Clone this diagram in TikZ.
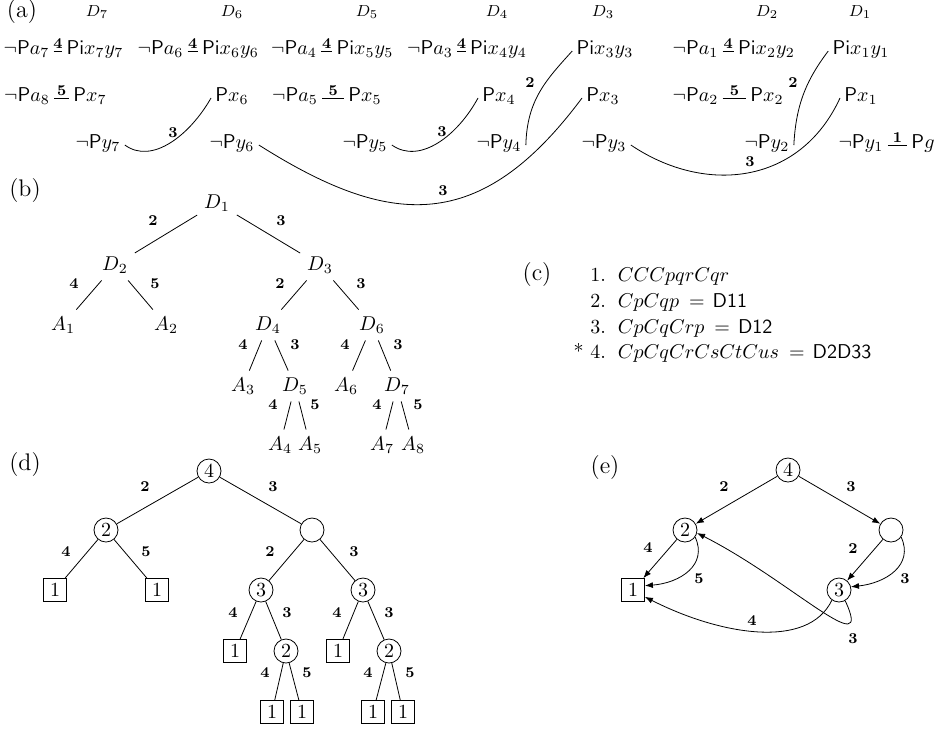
\documentclass[tikz,border=0pt]{standalone}
\usetikzlibrary{arrows.meta}
\begin{document}
\begin{tikzpicture}[x=0.5pt,y=-0.5pt,
  lit/.style={inner sep=2pt, text height=1.4ex, text depth=0.6ex},
  lbl/.style={font=\fontsize{7.5}{9}\selectfont\bfseries, inner sep=1pt},
  dlab/.style={font=\footnotesize},
  part/.style={font=\large},
  cn/.style={circle, draw, minimum size=12pt, inner sep=1pt},
  sn/.style={rectangle, draw, minimum size=11.5pt, inner sep=1pt},
  arr/.style={-{Latex[length=4pt,width=3pt]}},
  cline/.style={anchor=base west, inner sep=0pt}
]
\useasboundingbox (0,0) rectangle (936,729);

% ---------------- (a)
\node[part] (la) at (22,12) {(a)};
\node[dlab] (d7) at (97,12) {$D_7$};
\node[dlab] (d6) at (232,12) {$D_6$};
\node[dlab] (d5) at (367,12) {$D_5$};
\node[dlab] (d4) at (497,12) {$D_4$};
\node[dlab] (d3) at (603,12) {$D_3$};
\node[dlab] (d2) at (767,12) {$D_2$};
\node[dlab] (d1) at (860,12) {$D_1$};

\node[lit] (a7) at (26.5,51) {$\neg\mathsf{P}a_7$};
\node[lit] (ix7) at (95,51) {$\mathsf{Pi}x_7y_7$};
\node[lit] (a6) at (160.5,51) {$\neg\mathsf{P}a_6$};
\node[lit] (ix6) at (230.5,51) {$\mathsf{Pi}x_6y_6$};
\node[lit] (a4) at (294,51) {$\neg\mathsf{P}a_4$};
\node[lit] (ix5) at (365,51) {$\mathsf{Pi}x_5y_5$};
\node[lit] (a3) at (430,51) {$\neg\mathsf{P}a_3$};
\node[lit] (ix4) at (498.5,51) {$\mathsf{Pi}x_4y_4$};
\node[lit] (ix3) at (605,51) {$\mathsf{Pi}x_3y_3$};
\node[lit] (a1) at (695.5,51) {$\neg\mathsf{P}a_1$};
\node[lit] (ix2) at (766.5,51) {$\mathsf{Pi}x_2y_2$};
\node[lit] (ix1) at (861,51) {$\mathsf{Pi}x_1y_1$};

\node[lit] (a8) at (27,98) {$\neg\mathsf{P}a_8$};
\node[lit] (x7) at (90,98) {$\mathsf{P}x_7$};
\node[lit] (x6) at (232,98) {$\mathsf{P}x_6$};
\node[lit] (a5) at (295,98) {$\neg\mathsf{P}a_5$};
\node[lit] (x5) at (365,98) {$\mathsf{P}x_5$};
\node[lit] (x4) at (499,98) {$\mathsf{P}x_4$};
\node[lit] (x3) at (603,98) {$\mathsf{P}x_3$};
\node[lit] (a2) at (695.5,98) {$\neg\mathsf{P}a_2$};
\node[lit] (x2) at (767,98) {$\mathsf{P}x_2$};
\node[lit] (x1) at (861,98) {$\mathsf{P}x_1$};

\node[lit] (y7) at (98,145) {$\neg\mathsf{P}y_7$};
\node[lit] (y6) at (232,145) {$\neg\mathsf{P}y_6$};
\node[lit] (y5) at (365,145) {$\neg\mathsf{P}y_5$};
\node[lit] (y4) at (499,145) {$\neg\mathsf{P}y_4$};
\node[lit] (y3) at (604,145) {$\neg\mathsf{P}y_3$};
\node[lit] (y2) at (767,145) {$\neg\mathsf{P}y_2$};
\node[lit] (y1) at (861,145) {$\neg\mathsf{P}y_1$};
\node[lit] (g) at (923,145) {$\mathsf{P}g$};

\draw (a7) -- node[lbl, above] {4} (ix7);
\draw (a6) -- node[lbl, above] {4} (ix6);
\draw (a4) -- node[lbl, above] {4} (ix5);
\draw (a3) -- node[lbl, above] {4} (ix4);
\draw (a1) -- node[lbl, above] {4} (ix2);
\draw (a8) -- node[lbl, above] {5} (x7);
\draw (a5) -- node[lbl, above] {5} (x5);
\draw (a2) -- node[lbl, above] {5} (x2);
\draw (y1) -- node[lbl, above] {1} (g);

\draw (y7.east) .. controls (152,165) and (190,135) .. (x6.west) node[lbl] at (173,133) {3};
\draw (y5.east) .. controls (420,165) and (458,135) .. (x4.west) node[lbl] at (442,132) {3};
\draw (y6.east) .. controls (390,228) and (480,235) .. (x3.west) node[lbl] at (443,191) {3};
\draw (y4.east) .. controls (527,100) and (546,80) .. (ix3.west) node[lbl] at (530,83) {2};
\draw (y3.east) .. controls (705,195) and (800,185) .. (x1.west) node[lbl] at (750,162) {3};
\draw (y2.east) .. controls (796,102) and (808,78) .. (ix1.west) node[lbl] at (793,83) {2};

% ---------------- (b)
\node[part] (lb) at (25,191) {(b)};
\node (D1) at (217,203) {$D_1$};
\node (D2) at (115,265) {$D_2$};
\node (D3) at (320,265) {$D_3$};
\node (A1) at (63,325) {$A_1$};
\node (A2) at (166,325) {$A_2$};
\node (D4) at (268,325) {$D_4$};
\node (D6) at (372,325) {$D_6$};
\node (A3) at (243,386) {$A_3$};
\node (D5) at (295,386) {$D_5$};
\node (A6) at (346,386) {$A_6$};
\node (D7) at (397,386) {$D_7$};
\node (A4) at (280,445) {$A_4$};
\node (A5) at (310,445) {$A_5$};
\node (A7) at (382,445) {$A_7$};
\node (A8) at (413,445) {$A_8$};

\draw (D1) -- (D2) node[lbl] at (153,221) {2};
\draw (D1) -- (D3) node[lbl] at (281,221) {3};
\draw (D2) -- (A1) node[lbl] at (74,284) {4};
\draw (D2) -- (A2) node[lbl] at (155,284) {5};
\draw (D3) -- (D4) node[lbl] at (280,284) {2};
\draw (D3) -- (D6) node[lbl] at (361,284) {3};
\draw (D4) -- (A3) node[lbl] at (243,345) {4};
\draw (D4) -- (D5) node[lbl] at (295,345) {3};
\draw (D6) -- (A6) node[lbl] at (345,345) {4};
\draw (D6) -- (D7) node[lbl] at (398,345) {3};
\draw (D5) -- (A4) node[lbl] at (273,405) {4};
\draw (D5) -- (A5) node[lbl] at (315,405) {5};
\draw (D7) -- (A7) node[lbl] at (377,405) {4};
\draw (D7) -- (A8) node[lbl] at (418,405) {5};

% ---------------- (c)
\node[part] (lc) at (537,275) {(c)};
\node[cline] (c1) at (590,281) {1.\hspace{6pt}$CCCpqrCqr$};
\node[cline] (c2) at (590,307) {2.\hspace{6pt}$CpCqp$\hspace{5pt}$=$\hspace{4pt}\textsf{D11}};
\node[cline] (c3) at (590,333) {3.\hspace{6pt}$CpCqCrp$\hspace{5pt}$=$\hspace{4pt}\textsf{D12}};
\node[cline] (c4) at (590,358) {4.\hspace{6pt}$CpCqCrCsCtCus$\hspace{5pt}$=$\hspace{4pt}\textsf{D2D33}};
\node[anchor=base east, inner sep=0pt] (cs) at (584,358) {*};

% ---------------- (d)
\node[part] (ld) at (25,465) {(d)};
\node[cn] (r4) at (209,471) {4};
\node[cn] (l2) at (106,530) {2};
\node[cn] (re) at (312,530) {};
\node[sn] (s1) at (55,590) {1};
\node[sn] (s2) at (157,590) {1};
\node[cn] (c3a) at (261,590) {3};
\node[cn] (c3b) at (363,590) {3};
\node[sn] (s3) at (235,651) {1};
\node[cn] (c2a) at (286,651) {2};
\node[sn] (s4) at (338,651) {1};
\node[cn] (c2b) at (389,651) {2};
\node[sn] (s5) at (272,712) {1};
\node[sn] (s6) at (302,712) {1};
\node[sn] (s7) at (373,712) {1};
\node[sn] (s8) at (403,712) {1};

\draw (r4) -- (l2) node[lbl] at (145,487) {2};
\draw (r4) -- (re) node[lbl] at (273,487) {3};
\draw (l2) -- (s1) node[lbl] at (66,552) {4};
\draw (l2) -- (s2) node[lbl] at (146,552) {5};
\draw (re) -- (c3a) node[lbl] at (270,552) {2};
\draw (re) -- (c3b) node[lbl] at (354,552) {3};
\draw (c3a) -- (s3) node[lbl] at (233,613) {4};
\draw (c3a) -- (c2a) node[lbl] at (287,613) {3};
\draw (c3b) -- (s4) node[lbl] at (337,613) {4};
\draw (c3b) -- (c2b) node[lbl] at (389,613) {3};
\draw (c2a) -- (s5) node[lbl] at (265,673) {4};
\draw (c2a) -- (s6) node[lbl] at (307,673) {5};
\draw (c2b) -- (s7) node[lbl] at (368,673) {4};
\draw (c2b) -- (s8) node[lbl] at (410,673) {5};

% ---------------- (e)
\node[part] (le) at (605,467) {(e)};
\node[cn] (e4) at (788,470) {4};
\node[cn] (e2) at (685,530) {2};
\node[cn] (ee) at (891,530) {};
\node[sn] (e1) at (633,590) {1};
\node[cn] (e3) at (839,590) {3};

\draw[arr] (e4) -- (e2) node[lbl] at (724,487) {2};
\draw[arr] (e4) -- (ee) node[lbl] at (851,487) {3};
\draw[arr] (e2) -- (e1) node[lbl] at (648,548) {4};
\draw[arr] (e2.-35) .. controls (708,565) and (680,583) .. (e1.20) node[lbl] at (699,579) {5};
\draw[arr] (ee) -- (e3) node[lbl] at (853,549) {2};
\draw[arr] (ee.-35) .. controls (914,565) and (886,583) .. (e3.15) node[lbl] at (905,579) {3};
\draw[arr] (e3.-125) .. controls (808,650) and (720,635) .. (e1.-30) node[lbl] at (752,621) {4};
\draw[arr] (e3.-60) .. controls (875,665) and (790,580) .. (e2.-14) node[lbl] at (853,639) {3};
\end{tikzpicture}
\end{document}
